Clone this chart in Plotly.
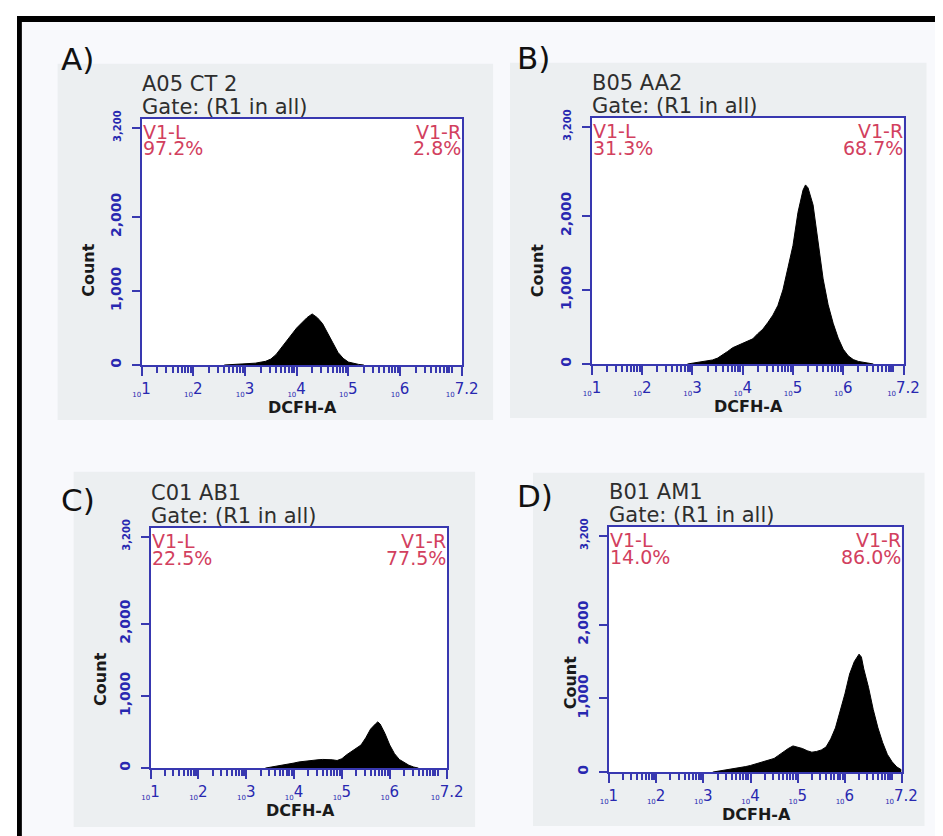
import plotly.graph_objects as go

# Measured mapping between figure pixels and the photographed page:
# photo_x = 16.3 + 0.975 * fig_x ; photo_y = 15.2 + 0.989 * fig_y
OX, SX = 16.3, 0.975
OY, SY = 15.2, 0.989
W, H = 951, 831

# ---------------- data ----------------
panel_letters = ["A)", "B)", "C)", "D)"]
sample_names = ["A05 CT 2", "B05 AA2", "C01 AB1", "B01 AM1"]
gate_text = "Gate: (R1 in all)"
left_labels = ["V1-L", "V1-L", "V1-L", "V1-L"]
right_labels = ["V1-R", "V1-R", "V1-R", "V1-R"]
left_pct = ["97.2%", "31.3%", "22.5%", "14.0%"]
right_pct = ["2.8%", "68.7%", "77.5%", "86.0%"]
gate_log = [4.94, 4.93, 4.98, 4.93]   # gate position, log10(DCFH-A)

y_tick_vals = [0, 1000, 2000, 3200]
y_tick_text = ["<b>0</b>", "<b>1,000</b>", "<b>2,000</b>",
               "<b><span style='font-size:10px'>3,200</span></b>"]
x_tick_exp = [1, 2, 3, 4, 5, 6, 7.2]
x_tick_lab = ["1", "2", "3", "4", "5", "6", "7.2"]
x_title = "DCFH-A"
y_title = "Count"

# histograms: log10(DCFH-A) vs count
a_log = [2.6, 2.8, 3.0, 3.2, 3.4, 3.5, 3.6, 3.7, 3.8, 3.9, 4.0, 4.1, 4.2, 4.3,
         4.4, 4.5, 4.6, 4.7, 4.8, 4.9, 5.0, 5.1, 5.2, 5.3]
a_cnt = [0, 5, 15, 25, 50, 80, 140, 230, 330, 420, 500, 570, 640, 690,
         640, 560, 440, 300, 170, 90, 40, 20, 8, 0]

b_log = [2.9, 3.0, 3.1, 3.2, 3.3, 3.4, 3.5, 3.6, 3.7, 3.8, 3.9, 4.0, 4.1, 4.2,
         4.3, 4.4, 4.5, 4.6, 4.7, 4.8, 4.9, 5.0, 5.1, 5.2, 5.25, 5.3, 5.4, 5.5,
         5.6, 5.7, 5.8, 5.9, 6.0, 6.1, 6.2, 6.3, 6.4, 6.5, 6.6]
b_cnt = [0, 10, 15, 25, 35, 55, 80, 120, 170, 220, 250, 280, 300, 340,
         410, 470, 560, 660, 790, 1000, 1300, 1600, 2050, 2350, 2420, 2380, 2150, 1650,
         1150, 800, 550, 350, 200, 110, 60, 35, 20, 10, 0]

c_log = [3.4, 3.5, 3.6, 3.7, 3.8, 3.9, 4.0, 4.1, 4.2, 4.3, 4.4, 4.5, 4.6, 4.7,
         4.8, 4.9, 5.0, 5.1, 5.2, 5.3, 5.4, 5.5, 5.6, 5.7, 5.75, 5.8, 5.9, 6.0,
         6.1, 6.2, 6.3, 6.4, 6.5, 6.6]
c_cnt = [0, 10, 20, 35, 50, 60, 70, 85, 95, 105, 110, 115, 120, 120,
         115, 105, 130, 185, 230, 270, 320, 420, 540, 610, 640, 610, 480, 320,
         200, 120, 75, 40, 15, 0]

d_log = [3.2, 3.3, 3.4, 3.5, 3.6, 3.7, 3.8, 3.9, 4.0, 4.1, 4.2, 4.3, 4.4, 4.5,
         4.6, 4.7, 4.8, 4.9, 5.0, 5.1, 5.2, 5.3, 5.4, 5.5, 5.6, 5.7, 5.8, 5.9,
         6.0, 6.1, 6.2, 6.3, 6.35, 6.4, 6.5, 6.6, 6.7, 6.8, 6.9, 7.0, 7.1, 7.2]
d_cnt = [0, 10, 20, 30, 40, 50, 60, 75, 90, 110, 125, 140, 160, 185,
         230, 280, 320, 355, 340, 320, 290, 270, 280, 300, 340, 450, 600, 820,
         1060, 1330, 1500, 1600, 1560, 1400, 1150, 850, 600, 400, 240, 140, 70, 30]

hist_logs = [a_log, b_log, c_log, d_log]
hist_cnts = [a_cnt, b_cnt, c_cnt, d_cnt]

# ---------------- layout (photo pixels) ----------------
plot_px = [(141, 118, 462, 365), (592, 117, 904, 364),
           (150, 528, 447, 769), (609, 527, 902, 773)]
panel_px = [(57, 63, 493, 420), (510, 62, 927, 418),
            (73, 472, 475, 828), (533, 473, 925, 827)]
letter_px = [(77, 58), (533, 57), (77, 500), (535, 496)]
count_px = [(88, 270), (537, 270), (100, 680), (570, 683)]
xtitle_px = [(302, 408), (749, 407), (300, 812), (757, 816)]

BLUE = "#3838b0"
TICKBLUE = "#2828b0"
RED_TXT = "#d2405e"
RED_LINE = "#c44a5c"
PANEL_GRAY = "#eceff1"
BG = "#f8f9fc"


def px(x):
    return ((x - OX) / SX) / W


def py(y):
    return 1 - ((y - OY) / SY) / H


fig = go.Figure()
shapes = []
annotations = []

# background and black frame (frame drawn at the figure's top-left edge)
bar = 5 / W
bar_y = 6 / H
shapes.append(dict(type="rect", xref="paper", yref="paper", x0=bar, x1=1.0,
                   y0=0, y1=1 - bar_y, fillcolor=BG, line=dict(width=0), layer="below"))
shapes.append(dict(type="rect", xref="paper", yref="paper", x0=0, x1=1.0,
                   y0=1 - bar_y, y1=1.0, fillcolor="black", line=dict(width=0), layer="below"))
shapes.append(dict(type="rect", xref="paper", yref="paper", x0=0, x1=bar,
                   y0=0, y1=1.0, fillcolor="black", line=dict(width=0), layer="below"))

minor_vals = [m * 10 ** e for e in range(1, 7) for m in range(2, 10)] + [1e7]
major_vals = [10 ** e for e in x_tick_exp]
major_text = ["<sub><span style='font-size:7px'>10</span></sub>" + t for t in x_tick_lab]

for i in range(4):
    n = "" if i == 0 else str(i + 1)
    xa, ya = "x" + n, "y" + n
    l, t, r, b = plot_px[i]
    gl, gt, gr, gb = panel_px[i]

    shapes.append(dict(type="rect", xref="paper", yref="paper", x0=px(gl), x1=px(gr),
                       y0=py(gb), y1=py(gt), fillcolor=PANEL_GRAY, line=dict(width=0),
                       layer="below"))
    shapes.append(dict(type="rect", xref="paper", yref="paper", x0=px(l), x1=px(r),
                       y0=py(b), y1=py(t), fillcolor="white", line=dict(width=0),
                       layer="below"))

    fig.add_trace(go.Scatter(
        x=[10 ** v for v in hist_logs[i]], y=hist_cnts[i],
        xaxis=xa, yaxis=ya, mode="lines", fill="tozeroy",
        fillcolor="black", line=dict(color="black", width=1),
        showlegend=False, hoverinfo="skip"))

    fig.update_layout(**{
        "xaxis" + n: dict(
            domain=[px(l), px(r)], anchor=ya, type="log", range=[1, 7.2],
            showgrid=False, zeroline=False, showline=True, mirror=True,
            linecolor=BLUE, linewidth=2,
            tickmode="array", tickvals=major_vals, ticktext=major_text,
            ticks="outside", ticklen=9, tickwidth=2, tickcolor=BLUE,
            tickfont=dict(family="DejaVu Sans", size=15, color=TICKBLUE),
            minor=dict(tickmode="array", tickvals=minor_vals, ticks="outside",
                       ticklen=6, tickwidth=2, tickcolor=BLUE, showgrid=False),
        ),
        "yaxis" + n: dict(
            domain=[py(b), py(t)], anchor=xa, range=[0, 3330],
            showgrid=False, zeroline=False, showline=True, mirror=True,
            linecolor=BLUE, linewidth=2,
            tickmode="array", tickvals=y_tick_vals, ticktext=y_tick_text,
            ticks="outside", ticklen=8, tickwidth=2, tickcolor=BLUE,
            tickangle=-90, ticklabelstandoff=5,
            tickfont=dict(family="DejaVu Sans", size=14, color=TICKBLUE),
        ),
    })

    # gate line
    shapes.append(dict(type="line", xref=xa, yref=ya + " domain",
                       x0=gate_log[i], x1=gate_log[i], y0=0, y1=1,
                       line=dict(color=RED_LINE, width=2), layer="above"))

    # texts
    cx, cy = letter_px[i]
    annotations.append(dict(text=panel_letters[i], xref="paper", yref="paper",
                            x=px(cx), y=py(cy), xanchor="center", yanchor="middle",
                            showarrow=False,
                            font=dict(family="DejaVu Sans", size=31, color="#111111")))
    annotations.append(dict(text=sample_names[i], xref="paper", yref="paper",
                            x=px(l - 2), y=py(t - 35), xanchor="left", yanchor="middle",
                            showarrow=False,
                            font=dict(family="DejaVu Sans", size=21, color="#2e2e2e")))
    annotations.append(dict(text=gate_text, xref="paper", yref="paper",
                            x=px(l - 2), y=py(t - 12), xanchor="left", yanchor="middle",
                            showarrow=False,
                            font=dict(family="DejaVu Sans", size=21, color="#2e2e2e")))
    for txt, yy in ((left_labels[i], t + 13), (left_pct[i], t + 30)):
        annotations.append(dict(text=txt, xref="paper", yref="paper",
                                x=px(l - 1), y=py(yy), xanchor="left", yanchor="middle",
                                showarrow=False,
                                font=dict(family="DejaVu Sans", size=19, color=RED_TXT)))
    for txt, yy in ((right_labels[i], t + 13), (right_pct[i], t + 30)):
        annotations.append(dict(text=txt, xref="paper", yref="paper",
                                x=px(r + 1), y=py(yy), xanchor="right", yanchor="middle",
                                showarrow=False,
                                font=dict(family="DejaVu Sans", size=19, color=RED_TXT)))
    ccx, ccy = count_px[i]
    annotations.append(dict(text="<b>" + y_title + "</b>", xref="paper", yref="paper",
                            x=px(ccx), y=py(ccy), xanchor="center", yanchor="middle",
                            textangle=-90, showarrow=False,
                            font=dict(family="DejaVu Sans", size=16, color="#1a1a1a")))
    tx, ty = xtitle_px[i]
    annotations.append(dict(text="<b>" + x_title + "</b>", xref="paper", yref="paper",
                            x=px(tx), y=py(ty), xanchor="center", yanchor="middle",
                            showarrow=False,
                            font=dict(family="DejaVu Sans", size=16, color="#1a1a1a")))

fig.update_layout(
    width=W, height=H,
    margin=dict(l=0, r=0, t=0, b=0),
    paper_bgcolor="white", plot_bgcolor="rgba(0,0,0,0)",
    shapes=shapes, annotations=annotations,
    showlegend=False,
)

fig.write_html("out.html")
